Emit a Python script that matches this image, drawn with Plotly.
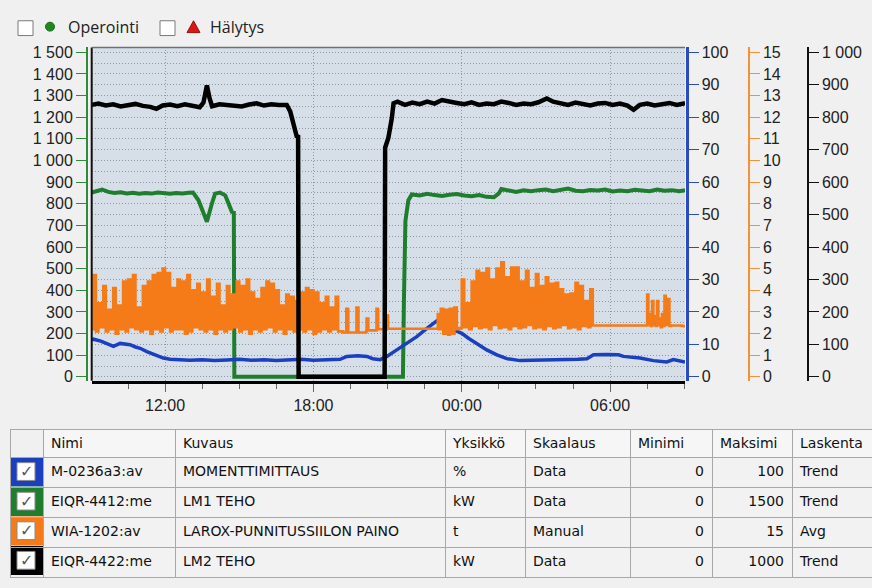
import pandas as pd
import plotly.graph_objects as go

# ---------------- data ----------------
BASE_DATE = "2021-03-01"
X_START_H = 9.03          # hours from midnight of the first day
X_END_H = 33.03

# MOMENTTIMITTAUS (%)
BLUE_H = [9.03, 9.1, 9.4, 9.64, 9.91, 10.18, 10.4, 10.58, 10.8, 10.99, 11.26, 11.45, 11.66, 11.93,
          12.2, 12.61, 13.0, 13.5, 14.0, 14.5, 15.0, 15.5, 16.0, 16.5, 17.0, 17.5, 18.0, 18.5, 19.08,
          19.35, 19.8, 20.16, 20.4, 20.7, 20.97, 21.37, 21.78, 22.18, 22.59, 22.92, 23.12, 23.19, 23.4,
          23.73, 24.0, 24.27, 24.61, 25.01, 25.42, 25.82, 26.36, 26.9, 27.44, 27.9, 28.25, 28.7, 29.06,
          29.33, 29.87, 30.34, 30.54, 31.21, 31.75, 32.29, 32.56, 32.97, 33.03]
BLUE_V = [11.4, 11.6, 11.0, 10.3, 9.4, 10.3, 10.1, 9.9, 9.2, 8.8, 7.8, 7.3, 6.8, 5.8,
          5.4, 5.3, 5.1, 5.3, 5.0, 5.2, 5.4, 5.1, 5.3, 5.0, 5.2, 5.4, 5.1, 5.3, 5.4,
          6.3, 6.5, 6.3, 5.6, 5.3, 6.3, 8.3, 10.3, 12.4, 14.9, 16.9, 17.9, 18.4, 15.4,
          14.4, 13.4, 11.9, 10.3, 8.3, 6.8, 5.6, 5.0, 5.1, 5.0, 5.2, 5.3, 5.4, 5.6,
          6.8, 6.9, 6.8, 6.3, 5.8, 5.0, 4.6, 5.3, 4.6, 4.6]

# LM1 TEHO (kW)
GREEN_H = [9.03, 9.25, 9.45, 9.7, 9.95, 10.2, 10.45, 10.7, 10.95, 11.2, 11.45, 11.7, 11.95, 12.2,
           12.45, 12.7, 12.95, 13.13, 13.35, 13.55, 13.69, 13.89, 14.02, 14.22, 14.43, 14.56, 14.7,
           14.78, 14.8, 17.0, 19.0, 21.62, 21.66, 21.72, 21.84, 21.98, 22.3, 22.6, 22.9, 23.2, 23.5,
           23.8, 24.1, 24.4, 24.7, 25.0, 25.3, 25.5, 25.6, 25.9, 26.2, 26.5, 26.8, 27.1, 27.4, 27.7,
           28.0, 28.3, 28.6, 28.9, 29.2, 29.5, 29.8, 30.1, 30.4, 30.7, 31.0, 31.3, 31.6, 31.9, 32.2,
           32.5, 32.8, 33.03]
GREEN_V = [852, 858, 866, 855, 850, 853, 848, 851, 846, 850, 847, 852, 849, 846,
           850, 848, 851, 852, 816, 763, 717, 800, 847, 852, 839, 803, 763,
           760, 0, 0, 0, 0, 352, 720, 816, 843, 838, 846, 840, 836, 842,
           845, 838, 835, 840, 832, 830, 848, 868, 860, 855, 862, 858, 863, 866, 858,
           862, 870, 860, 858, 864, 861, 866, 857, 861, 858, 865, 862, 858, 866, 860,
           863, 858, 862]

# LAROX-PUNNITUSSIILON PAINO (t) - dense spiky periods as trough / peak readings
ORANGE_STEP_H = 0.1
ORANGE_A_START_H = 9.0
ORANGE_A_TROUGHS = [2.2, 2.1, 2.3, 2.1, 2.2, 2.0, 2.2, 2.1, 2.3, 2.2,
                    2.1, 2.2, 2.0, 2.2, 2.1, 2.3, 2.1, 2.2, 2.2, 2.0,
                    2.1, 2.3, 2.2, 2.1, 2.2, 2.0, 2.2, 2.1, 2.2, 2.3,
                    2.1, 2.2, 2.0, 2.2, 2.1, 2.2, 2.3, 2.1, 2.2, 2.0,
                    2.2, 2.1, 2.2, 2.1, 2.2, 2.0, 2.1, 2.2, 2.1, 2.2,
                    2.1]
ORANGE_A_PEAKS = [4.7, 3.4, 4.2, 3.1, 4.1, 3.3, 4.4, 4.5, 4.7, 3.2,
                  4.2, 4.4, 4.7, 4.8, 5.0, 4.8, 4.1, 4.5, 4.4, 4.7,
                  4.0, 4.3, 3.9, 4.5, 3.7, 4.3, 3.3, 4.2, 3.8, 4.4,
                  4.2, 4.5, 3.9, 3.6, 4.1, 4.4, 4.3, 4.0, 3.3, 3.8,
                  3.7, 3.5, 3.9, 4.1, 4.0, 3.9, 3.4, 3.7, 3.2, 3.7]
ORANGE_B_H = [19.2, 19.31, 19.33, 19.39, 19.41, 19.72, 19.74, 19.8, 19.82, 20.13, 20.15, 20.2,
              20.22, 20.53, 20.55, 20.6, 20.62, 20.94, 20.96, 21.0, 21.02, 22.95, 23.0, 23.03,
              23.08, 23.15, 23.25, 23.35, 23.45, 23.52, 23.6, 23.7, 23.8]
ORANGE_B_V = [2.05, 2.05, 3.15, 3.1, 2.05, 2.05, 3.2, 3.2, 2.05, 2.1, 2.7, 2.7,
              2.15, 2.15, 3.15, 3.1, 2.2, 2.2, 2.85, 2.8, 2.22, 2.22, 2.22, 2.9,
              2.2, 3.15, 2.0, 3.1, 1.95, 3.15, 2.0, 3.2, 2.2]
ORANGE_C_START_H = 23.9
ORANGE_C_TROUGHS = [2.25, 2.3, 2.2, 2.35, 2.25, 2.3, 2.2, 2.4, 2.25, 2.3,
                    2.2, 2.35, 2.25, 2.3, 2.4, 2.25, 2.3, 2.2, 2.35, 2.25,
                    2.3, 2.4, 2.25, 2.3, 2.2, 2.35, 2.3, 2.37]
ORANGE_C_PEAKS = [4.5, 3.4, 4.4, 4.9, 4.8, 5.0, 4.5, 5.0, 5.3, 4.6,
                  5.05, 5.05, 4.4, 4.9, 4.1, 4.75, 4.2, 4.6, 4.3, 4.35,
                  4.05, 3.8, 3.85, 4.35, 4.2, 3.5, 4.05]
ORANGE_E_H = [31.45, 31.5, 31.55, 31.6, 31.65, 31.7, 31.75, 31.8, 31.85, 31.9, 31.95, 32.0,
              32.05, 32.1, 32.15, 32.2, 32.25, 32.3, 32.35, 32.4, 32.45, 32.9, 33.03]
ORANGE_E_V = [2.37, 3.8, 2.4, 2.9, 2.35, 3.5, 2.4, 2.8, 2.35, 3.5, 2.4, 2.7,
              2.3, 2.9, 2.35, 3.75, 2.4, 2.8, 3.6, 2.35, 2.37, 2.35, 2.28]

# LM2 TEHO (kW)
BLACK_H = [9.03, 9.3, 9.6, 9.9, 10.2, 10.5, 10.8, 11.1, 11.4, 11.65, 11.9, 12.2, 12.5, 12.8, 13.1,
           13.4, 13.55, 13.69, 13.8, 13.9, 14.2, 14.5, 14.8, 15.1, 15.4, 15.7, 16.0, 16.3, 16.6,
           16.92, 17.06, 17.19, 17.32, 17.38, 17.4, 19.0, 20.88, 20.9, 21.03, 21.17, 21.24, 21.4,
           21.7, 22.0, 22.3, 22.6, 22.9, 23.2, 23.5, 23.8, 24.1, 24.4, 24.7, 25.0, 25.3, 25.6, 25.9,
           26.2, 26.5, 26.8, 27.1, 27.44, 27.7, 28.0, 28.3, 28.6, 28.9, 29.2, 29.5, 29.8, 30.1,
           30.4, 30.7, 30.95, 31.2, 31.5, 31.8, 32.1, 32.4, 32.7, 33.03]
BLACK_V = [838, 842, 836, 840, 833, 837, 841, 835, 832, 826, 836, 839, 834, 840, 837,
           831, 845, 898, 858, 834, 840, 837, 835, 833, 839, 843, 836, 840, 838,
           838, 818, 777, 742, 740, 0, 0, 0, 706, 736, 797, 843, 848,
           838, 845, 840, 848, 842, 853, 850, 844, 840, 846, 838, 842, 840, 848, 844,
           838, 842, 840, 846, 858, 848, 842, 838, 845, 840, 836, 842, 844, 838,
           842, 836, 823, 838, 842, 836, 840, 844, 838, 843]

# table / legend
TABLE_HEADERS = ["", "Nimi", "Kuvaus", "Yksikkö", "Skaalaus", "Minimi", "Maksimi", "Laskenta"]
NIMI = ["M-0236a3:av", "EIQR-4412:me", "WIA-1202:av", "EIQR-4422:me"]
KUVAUS = ["MOMENTTIMITTAUS", "LM1 TEHO", "LAROX-PUNNITUSSIILON PAINO", "LM2 TEHO"]
YKSIKKO = ["%", "kW", "t", "kW"]
SKAALAUS = ["Data", "Data", "Manual", "Data"]
MINIMI = [0, 0, 0, 0]
MAKSIMI = [100, 1500, 15, 1000]
LASKENTA = ["Trend", "Trend", "Avg", "Trend"]
SERIES_COLORS = ["#1a3fc0", "#1f7d2e", "#f57a18", "#000000"]
LEGEND_LABELS = ["Operointi", "Hälytys"]

# ---------------- helpers ----------------
W, H = 872, 588
base = pd.Timestamp(BASE_DATE)


def to_time(hours):
    return [base + pd.Timedelta(hours=h) for h in hours]


def px(x):
    return x / W


def py(y):
    return 1 - y / H


def zigzag(start, troughs, peaks):
    hrs, vals = [], []
    k = 0
    for i, tr in enumerate(troughs):
        hrs.append(start + ORANGE_STEP_H * k); vals.append(tr); k += 1
        if i < len(peaks):
            hrs.append(start + ORANGE_STEP_H * k); vals.append(peaks[i]); k += 1
    return hrs, vals


a_h, a_v = zigzag(ORANGE_A_START_H, ORANGE_A_TROUGHS, ORANGE_A_PEAKS)
c_h, c_v = zigzag(ORANGE_C_START_H, ORANGE_C_TROUGHS, ORANGE_C_PEAKS)
ORANGE_H = a_h + ORANGE_B_H + c_h + ORANGE_E_H
ORANGE_V = a_v + ORANGE_B_V + c_v + ORANGE_E_V

# plot area in pixels
PL, PR, PT, PB = 91.7, 685.0, 45.0, 383.0
ZERO_PX, TOP_PX = 379.0, 50.0
pad_lo = (PB - ZERO_PX) / (ZERO_PX - TOP_PX)
pad_hi = (TOP_PX - PT) / (ZERO_PX - TOP_PX)


def rng(mn, mx):
    span = mx - mn
    return [mn - span * pad_lo, mx + span * pad_hi]


FONT = "Liberation Sans"
TICKFONT = dict(family=FONT, size=16, color="#222222")
GRID_COLOR = "#8f99a3"
GRID_DASH = "1px,2px"

fig = go.Figure()
fig.add_trace(go.Scatter(x=to_time(BLUE_H), y=BLUE_V, yaxis="y2", mode="lines",
                         line=dict(color=SERIES_COLORS[0], width=3.5), name=KUVAUS[0]))
fig.add_trace(go.Scatter(x=to_time(ORANGE_H), y=ORANGE_V, yaxis="y3", mode="lines",
                         line=dict(color=SERIES_COLORS[2], width=2.6, shape="hv"), name=KUVAUS[2]))
fig.add_trace(go.Scatter(x=to_time(GREEN_H), y=GREEN_V, yaxis="y", mode="lines",
                         line=dict(color=SERIES_COLORS[1], width=4), name=KUVAUS[1]))
fig.add_trace(go.Scatter(x=to_time(BLACK_H), y=BLACK_V, yaxis="y4", mode="lines",
                         line=dict(color=SERIES_COLORS[3], width=4.5), name=KUVAUS[3]))

# table
cell_cols = [["", "", "", ""], NIMI, KUVAUS, YKSIKKO, SKAALAUS, MINIMI, MAKSIMI, LASKENTA]
fig.add_trace(go.Table(
    domain=dict(x=[px(10), 1.0], y=[0, py(432)]),
    columnwidth=[33, 132, 270, 80, 105, 82, 80, 80],
    header=dict(values=TABLE_HEADERS, height=28,
                fill=dict(color=["rgba(0,0,0,0)"] + ["#f6f6f6"] * 7),
                line=dict(color="#a8a8a8", width=1),
                align="left",
                font=dict(family="DejaVu Sans", size=14, color="#111111")),
    cells=dict(values=cell_cols, height=30,
               fill=dict(color=["rgba(0,0,0,0)"] + ["#f2f2f2"] * 7),
               line=dict(color="#a8a8a8", width=1),
               align=["left", "left", "left", "left", "left", "right", "right", "left"],
               font=dict(family="DejaVu Sans", size=14, color="#111111")),
))

shapes = []
annotations = []
# plot frame
shapes.append(dict(type="line", xref="x domain", yref="y domain", x0=0, x1=0, y0=0, y1=1,
                   line=dict(color="#111111", width=2)))
shapes.append(dict(type="line", xref="x domain", yref="y domain", x0=0, x1=1, y0=1, y1=1,
                   line=dict(color="#707070", width=1.5)))

# top legend
for (cx, label, marker) in [(18, LEGEND_LABELS[0], "dot"), (160, LEGEND_LABELS[1], "tri")]:
    shapes.append(dict(type="rect", xref="paper", yref="paper", x0=px(cx), x1=px(cx + 15),
                       y0=py(33), y1=py(18), fillcolor="white", line=dict(color="#7a7a7a", width=1)))
    if marker == "dot":
        shapes.append(dict(type="circle", xref="paper", yref="paper", x0=px(45.5), x1=px(54.5),
                           y0=py(28.5), y1=py(19.5), fillcolor="#1e8a1e", line=dict(color="#156b15", width=1)))
        tx = 66
    else:
        shapes.append(dict(type="path", xref="paper", yref="paper",
                           path=f"M {px(187)} {py(30)} L {px(200)} {py(30)} L {px(193.5)} {py(18)} Z",
                           fillcolor="#d81818", line=dict(color="#a01010", width=1)))
        tx = 208
    annotations.append(dict(xref="paper", yref="paper", x=px(tx), y=py(24.5), xanchor="left",
                            yanchor="middle", text=label, showarrow=False,
                            font=dict(family="Open Sans", size=16, color="#222222")))

# colour / checkbox cells of the table
for i, col in enumerate(SERIES_COLORS):
    top = 460 + 30 * i
    shapes.append(dict(type="rect", xref="paper", yref="paper", x0=px(10.5), x1=px(43),
                       y0=py(top + 30), y1=py(top + 0.5), fillcolor=col, line=dict(width=0),
                       layer="below"))
    shapes.append(dict(type="rect", xref="paper", yref="paper", x0=px(17), x1=px(35),
                       y0=py(top + 24), y1=py(top + 6), fillcolor="white",
                       line=dict(color="#8a8a8a", width=1), layer="below"))
    annotations.append(dict(xref="paper", yref="paper", x=px(26), y=py(top + 15), text="✓",
                            showarrow=False, xanchor="center", yanchor="middle",
                            font=dict(family="DejaVu Sans", size=16, color="#555555")))

yaxis_common = dict(ticks="outside", ticklen=10, showgrid=False, zeroline=False,
                    tickfont=TICKFONT, showline=True, domain=[py(PB), py(PT)],
                    anchor="free", tick0=0)

fig.update_layout(
    width=W, height=H, autosize=False,
    margin=dict(l=0, r=0, t=0, b=0, pad=0),
    paper_bgcolor="#f0f0f0", plot_bgcolor="#d6dfe7",
    separators=". ",
    showlegend=False,
    font=dict(family=FONT, size=16, color="#222222"),
    xaxis=dict(domain=[px(PL), px(PR)], anchor="y", type="date",
               range=[base + pd.Timedelta(hours=X_START_H), base + pd.Timedelta(hours=X_END_H)],
               tickformat="%H:%M", dtick=6 * 3600 * 1000, tick0=BASE_DATE,
               ticks="outside", ticklen=8, tickwidth=1, tickcolor="#666666",
               showgrid=True, gridcolor=GRID_COLOR, griddash=GRID_DASH, gridwidth=1,
               showline=True, linecolor="#000000", linewidth=3, zeroline=False,
               tickfont=TICKFONT,
               minor=dict(dtick=90 * 60 * 1000, tick0=BASE_DATE, ticks="outside",
                          ticklen=5, tickcolor="#666666", showgrid=False)),
    yaxis=dict(yaxis_common, side="left", position=px(87), range=rng(MINIMI[1], MAKSIMI[1]),
               dtick=100, tickformat=",d", tickcolor="#2e8b3e", linecolor="#2e8b3e", linewidth=2,
               showgrid=True, gridcolor=GRID_COLOR, griddash=GRID_DASH, gridwidth=1,
               minor=dict(dtick=50, showgrid=True, gridcolor=GRID_COLOR, griddash=GRID_DASH,
                          gridwidth=1)),
    yaxis2=dict(yaxis_common, side="right", overlaying="y", position=px(686.5),
                range=rng(MINIMI[0], MAKSIMI[0]), dtick=10, tickcolor="#2a4cc0",
                linecolor="#2a4cc0", linewidth=3),
    yaxis3=dict(yaxis_common, side="right", overlaying="y", position=px(749),
                range=rng(MINIMI[2], MAKSIMI[2]), dtick=1, tickcolor="#f39237",
                linecolor="#f39237", linewidth=1.5),
    yaxis4=dict(yaxis_common, side="right", overlaying="y", position=px(808),
                range=rng(MINIMI[3], MAKSIMI[3]), dtick=100, tickformat=",d",
                tickcolor="#111111", linecolor="#111111", linewidth=1.5),
    shapes=shapes,
    annotations=annotations,
)

fig.write_html("out.html", config={"displayModeBar": False},
               post_script="document.body.style.margin='0px';")
